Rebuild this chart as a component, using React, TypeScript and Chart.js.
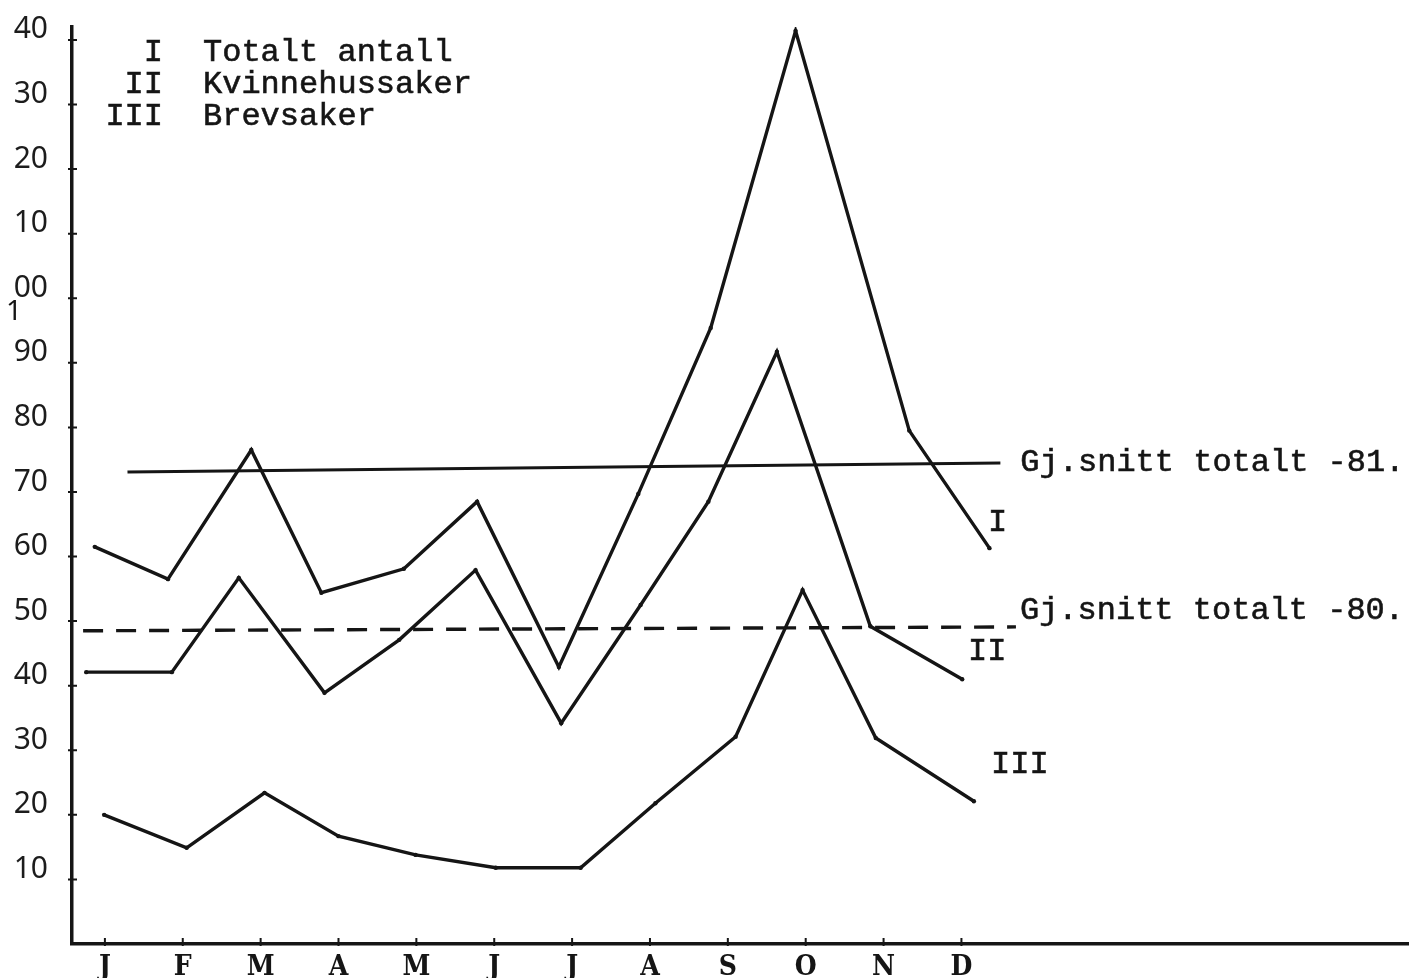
import React, { useEffect, useRef } from "react";
import { Chart, registerables } from "chart.js";

Chart.register(...registerables);

// ---- data ----
const months = ["J", "F", "M", "A", "M", "J", "J", "A", "S", "O", "N", "D"];
const monthTicks = [0, 1, 2, 3, 4, 5, 6, 7, 8, 9, 10, 11];
const yTickValues = [10, 20, 30, 40, 50, 60, 70, 80, 90, 100, 110, 120, 130, 140];

// I Totalt antall
const totalX = [-0.13, 0.81, 1.88, 2.78, 3.84, 4.78, 5.83, 6.85, 7.78, 8.87, 10.33, 11.36];
const totalY = [61.5, 56.5, 76.5, 54.4, 58.1, 68.5, 42.9, 69.7, 95.4, 141.4, 79.5, 61.3];
// II Kvinnehussaker
const kvinneX = [-0.24, 0.86, 1.72, 2.82, 3.78, 4.76, 5.86, 6.88, 7.75, 8.63, 9.83, 11.01];
const kvinneY = [42.1, 42.1, 56.7, 38.9, 47.1, 57.9, 34.2, 52.5, 68.5, 91.7, 49.2, 41.0];
// III Brevsaker
const brevX = [-0.01, 1.05, 2.05, 3.0, 3.99, 5.02, 6.11, 7.07, 8.1, 8.96, 9.9, 11.16];
const brevY = [20.0, 14.9, 23.4, 16.7, 13.8, 11.8, 11.8, 21.8, 32.1, 54.8, 31.9, 22.1];
// averages
const avg81X = [0.29, 11.5];
const avg81Y = [73.1, 74.5];
const avg80X = [-0.28, 11.7];
const avg80Y = [48.5, 49.1];

const legendNumerals = ["I", "II", "III"];
const legendNames = ["Totalt antall", "Kvinnehussaker", "Brevsaker"];
const avgLabels = ["Gj.snitt totalt -81.", "Gj.snitt totalt -80."];

const pts = (xs: number[], ys: number[]) => xs.map((x, i) => ({ x, y: ys[i] }));

const INK = "#151515";
const MONO = '"Liberation Mono", "DejaVu Sans Mono", monospace';

const typed = (ctx: any, s: string, x: number, y: number) => {
  ctx.fillText(s, x, y);
  ctx.strokeText(s, x, y);
};

const textPlugin = {
  id: "typedText",
  afterDraw(chart: any) {
    const ctx = chart.ctx;
    const xs = chart.scales.x;
    const ys = chart.scales.y;
    const area = chart.chartArea;
    ctx.save();
    // tick marks crossing the axes
    ctx.strokeStyle = INK;
    ctx.lineWidth = 2;
    ctx.beginPath();
    yTickValues.forEach((v) => {
      const py = ys.getPixelForValue(v);
      ctx.moveTo(area.left - 4, py);
      ctx.lineTo(area.left + 5, py);
    });
    monthTicks.forEach((v) => {
      const px = xs.getPixelForValue(v);
      ctx.moveTo(px, area.bottom - 6);
      ctx.lineTo(px, area.bottom + 2);
    });
    ctx.stroke();

    ctx.fillStyle = INK;
    ctx.strokeStyle = INK;
    ctx.lineWidth = 0.6;
    ctx.font = `32px ${MONO}`;
    ctx.textBaseline = "alphabetic";
    // legend
    const baselines = [61, 93, 125];
    legendNumerals.forEach((n, i) => {
      ctx.textAlign = "right";
      typed(ctx, n, 163, baselines[i]);
      ctx.textAlign = "left";
      typed(ctx, legendNames[i], 203, baselines[i]);
    });
    // average labels
    ctx.textAlign = "left";
    typed(ctx, avgLabels[0], xs.getPixelForValue(avg81X[1]) + 20, ys.getPixelForValue(avg81Y[1]) + 8);
    typed(ctx, avgLabels[1], xs.getPixelForValue(avg80X[1]) + 4, ys.getPixelForValue(avg80Y[1]) - 8);
    // series labels
    typed(ctx, "I", 988, 531);
    typed(ctx, "II", 968, 660);
    typed(ctx, "III", 991, 773);
    // stray hundreds digit
    ctx.font = '28px "Noto Sans", sans-serif';
    ctx.fillText("1", 6, 320);
    ctx.restore();
  },
};

export default function App() {
  const ref = useRef<HTMLCanvasElement | null>(null);

  useEffect(() => {
    document.body.style.margin = "0";
    document.body.style.overflow = "hidden";
    const canvas = ref.current!;
    const line = (data: any, extra: any = {}) => ({
      data,
      borderColor: INK,
      backgroundColor: INK,
      borderWidth: 3.4,
      pointRadius: 2.2,
      pointBackgroundColor: INK,
      pointBorderWidth: 0,
      tension: 0,
      fill: false,
      showLine: true,
      ...extra,
    });
    const chart = new Chart(canvas, {
      type: "line",
      data: {
        datasets: [
          line(pts(totalX, totalY), { label: "I" }),
          line(pts(kvinneX, kvinneY), { label: "II" }),
          line(pts(brevX, brevY), { label: "III" }),
          line(pts(avg81X, avg81Y), { label: "-81", pointRadius: 0, borderWidth: 3 }),
          line(pts(avg80X, avg80Y), { label: "-80", pointRadius: 0, borderWidth: 3.4, borderDash: [20, 13] }),
        ],
      },
      options: {
        responsive: false,
        animation: false,
        events: [],
        layout: { padding: { top: 27, left: 0, right: 0, bottom: 0 } },
        plugins: { legend: { display: false }, tooltip: { enabled: false } },
        scales: {
          x: {
            type: "linear",
            min: -0.4225,
            max: 16.735,
            afterBuildTicks: (s: any) => {
              s.ticks = monthTicks.map((v) => ({ value: v }));
            },
            afterFit: (s: any) => {
              s.height = 34;
              s.paddingLeft = 0;
              s.paddingRight = 0;
            },
            ticks: {
              autoSkip: false,
              maxRotation: 0,
              padding: 7,
              color: INK,
              font: { family: '"DejaVu Serif Condensed", "Liberation Serif", serif', size: 28, weight: "bold" },
              callback: (v: any) => months[Math.round(Number(v))] ?? "",
            },
            grid: { drawOnChartArea: false, drawTicks: false, color: INK, lineWidth: 2 },
            border: { display: true, color: INK, width: 3.5 },
          },
          y: {
            type: "linear",
            min: 0,
            max: 142,
            afterBuildTicks: (s: any) => {
              s.ticks = yTickValues.map((v) => ({ value: v }));
            },
            afterFit: (s: any) => {
              s.width = 72;
              s.paddingTop = 0;
              s.paddingBottom = 0;
            },
            ticks: {
              autoSkip: false,
              padding: 24,
              labelOffset: -10,
              color: "#1c1c1c",
              font: { family: '"Noto Sans", sans-serif', size: 30 },
              callback: (v: any) => String(Number(v) % 100).padStart(2, "0"),
            },
            grid: { drawOnChartArea: false, drawTicks: false, color: INK, lineWidth: 2 },
            border: { display: true, color: INK, width: 3.5 },
          },
        },
      },
      plugins: [textPlugin],
    } as any);
    return () => chart.destroy();
  }, []);

  return (
    <div style={{ width: 1412, height: 978, background: "#fff" }}>
      <canvas ref={ref} width={1412} height={978} style={{ display: "block", width: 1412, height: 978 }} />
    </div>
  );
}
